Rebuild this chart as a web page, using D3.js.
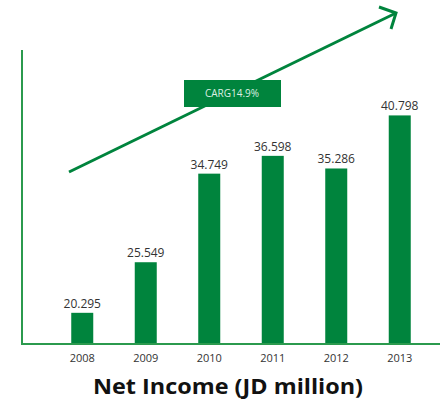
<!DOCTYPE html>
<html>
<head>
<meta charset="utf-8">
<script src="https://cdn.jsdelivr.net/npm/d3@7/dist/d3.min.js"></script>
<style>
  html, body { margin: 0; padding: 0; background: #fff; }
  svg { display: block; }
</style>
</head>
<body>
<script>
// Net income by year, JD million
const years = ["2008", "2009", "2010", "2011", "2012", "2013"];
const netIncome = [20.295, 25.549, 34.749, 36.598, 35.286, 40.798];
const valueLabels = ["20.295", "25.549", "34.749", "36.598", "35.286", "40.798"];
const cagrLabel = "CARG14.9%";
const chartTitle = "Net Income (JD million)";

const W = 446, H = 403;
const green = "#00843d";
const axisGreen = "#2b9a4e";
const font = "'Open Sans', 'Noto Sans', sans-serif";

const svg = d3.select("body").append("svg")
  .attr("width", W).attr("height", H);

const baseY = 343;
const x = d3.scaleBand().domain(years).range([39.5, 442.5])
  .paddingInner(0.6535).paddingOuter(0.5);
const y = d3.scaleLinear().domain([17.16, 47.8]).range([baseY, 48]);

// bars
svg.append("g").selectAll("rect")
  .data(years)
  .join("rect")
  .attr("x", d => x(d))
  .attr("width", x.bandwidth())
  .attr("y", (d, i) => y(netIncome[i]))
  .attr("height", (d, i) => baseY - y(netIncome[i]))
  .attr("fill", green);

// value labels above bars
svg.append("g").selectAll("text")
  .data(years)
  .join("text")
  .attr("x", d => x(d) + x.bandwidth() / 2)
  .attr("y", (d, i) => y(netIncome[i]) - 5)
  .attr("text-anchor", "middle")
  .attr("font-family", font)
  .attr("font-size", 12)
  .attr("fill", "#333")
  .text((d, i) => valueLabels[i]);

// axes: left vertical line and baseline with year labels
svg.append("line")
  .attr("x1", 22).attr("x2", 22)
  .attr("y1", y.range()[1] + 2).attr("y2", baseY + 2)
  .attr("stroke", axisGreen).attr("stroke-width", 2);

const xAxis = svg.append("g")
  .attr("transform", `translate(0,${baseY + 1})`)
  .call(d3.axisBottom(x).tickSize(0).tickPadding(10));
xAxis.select(".domain").remove();
xAxis.selectAll("text")
  .attr("font-family", font)
  .attr("font-size", 11)
  .attr("fill", "#333");

svg.append("line")
  .attr("x1", 21).attr("x2", 440)
  .attr("y1", baseY + 1).attr("y2", baseY + 1)
  .attr("stroke", axisGreen).attr("stroke-width", 2);

// growth arrow
const arrowStart = [69, 172], arrowEnd = [396, 13];
svg.append("line")
  .attr("x1", arrowStart[0]).attr("y1", arrowStart[1])
  .attr("x2", arrowEnd[0]).attr("y2", arrowEnd[1])
  .attr("stroke", green).attr("stroke-width", 3);
svg.append("path")
  .attr("d", d3.line()([[379, 7], arrowEnd, [391, 29]]))
  .attr("fill", "none")
  .attr("stroke", green).attr("stroke-width", 3)
  .attr("stroke-linejoin", "miter");

// CAGR badge
svg.append("rect")
  .attr("x", 184).attr("y", 80)
  .attr("width", 97).attr("height", 27)
  .attr("fill", green);
svg.append("text")
  .attr("x", 232).attr("y", 97)
  .attr("text-anchor", "middle")
  .attr("font-family", font)
  .attr("font-size", 10)
  .attr("fill", "#dcefe2")
  .text(cagrLabel);

// title
svg.append("text")
  .attr("x", 228).attr("y", 394)
  .attr("text-anchor", "middle")
  .attr("font-family", font)
  .attr("font-weight", "bold")
  .attr("font-size", 21)
  .attr("fill", "#111")
  .attr("textLength", 270)
  .attr("lengthAdjust", "spacingAndGlyphs")
  .text(chartTitle);
</script>
</body>
</html>
